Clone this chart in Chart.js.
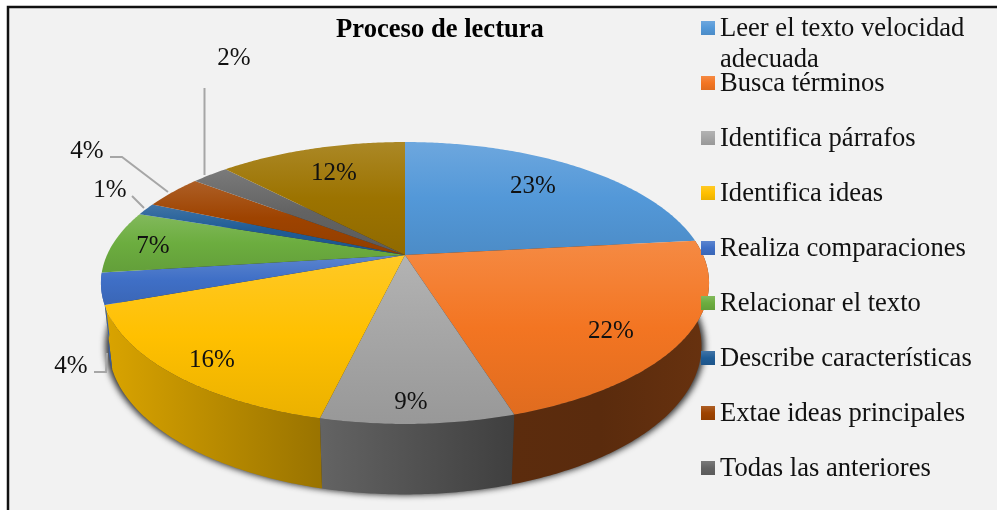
<!DOCTYPE html>
<html>
<head>
<meta charset="utf-8">
<title>Proceso de lectura</title>
<script src="https://cdn.jsdelivr.net/npm/chart.js@4"></script>
<style>
  html, body { margin: 0; padding: 0; background: #fff; }
  canvas { display: block; }
</style>
</head>
<body>
<canvas id="chart-area" width="997" height="510"></canvas>
<script>
var chartTitle = 'Proceso de lectura';
var categories = [
  ['Leer el texto velocidad', 'adecuada'],
  ['Busca términos'],
  ['Identifica párrafos'],
  ['Identifica ideas'],
  ['Realiza comparaciones'],
  ['Relacionar el texto'],
  ['Describe características'],
  ['Extae ideas principales'],
  ['Todas las anteriores']
];
categories.push(['']); // last slice has no entry in the legend of the original

// shares, in percent
var shares = [23.3, 21.9, 8.5, 15.7, 3.6, 7.2, 1.4, 3.9, 2.4, 12.1];
var sliceColors = ['#5398d8', '#f37522', '#a5a5a5', '#ffc000', '#3f6fc6',
                   '#6cad3f', '#1f5c96', '#9e4300', '#636363', '#9c7300'];

// where the percent labels sit, these were moved by hand in the original
var labelSpots = [[533, 186], [611, 331], [411, 402], [212, 360], [71, 366],
                  [153, 246], [110, 190], [87, 151], [234, 58], [334, 173]];
var leaderLines = [
  [[94, 372], [106, 372], [107, 353]],
  [[132, 196], [144, 208]],
  [[110, 157], [122, 157], [168, 192]],
  [[204.5, 88], [204.5, 175]]
];

// perspective of the tilted disc
var persp = 0.1986;
var kx = 298 / 255;
var ky = 135.4 / 255;
// side wall light, from left to right
var wallShade = [[100, 0.86], [322, 0.6], [514, 0.38], [600, 0.37], [710, 0.43]];

function rgb(hex) {
  return [parseInt(hex.substr(1, 2), 16), parseInt(hex.substr(3, 2), 16), parseInt(hex.substr(5, 2), 16)];
}
function times(hex, f) {
  var c = rgb(hex);
  return 'rgb(' + Math.round(c[0] * f) + ',' + Math.round(c[1] * f) + ',' + Math.round(c[2] * f) + ')';
}
function toWhite(hex, f) {
  var c = rgb(hex);
  return 'rgb(' + Math.round(c[0] + (255 - c[0]) * f) + ',' + Math.round(c[1] + (255 - c[1]) * f) + ',' + Math.round(c[2] + (255 - c[2]) * f) + ')';
}
function topPoint(arc, a) {
  var u = Math.cos(a), v = Math.sin(a), d = 1 - persp * v;
  return [arc.x + arc.outerRadius * kx * u / d, arc.y + arc.outerRadius * ky * v / d];
}
function basePoint(arc, a) {
  var p = topPoint(arc, a);
  return [arc.x + (p[0] - arc.x) * 0.975, arc.y + (p[1] - arc.y) * 1.053 + 61.5];
}
function shadowPoint(arc, a) {
  var p = topPoint(arc, a);
  return [arc.x + (p[0] - arc.x) * 0.985, arc.y + (p[1] - arc.y) * 1.053 + 62];
}
function arcPoints(arc, fn) {
  var pts = [];
  var n = Math.max(2, Math.ceil((arc.endAngle - arc.startAngle) / 0.01));
  for (var i = 0; i <= n; i++) {
    pts.push(fn(arc, arc.startAngle + (arc.endAngle - arc.startAngle) * i / n));
  }
  return pts;
}
function tracePath(ctx, pts) {
  ctx.beginPath();
  pts.forEach(function(p, i) {
    if (i == 0) ctx.moveTo(p[0], p[1]);
    else ctx.lineTo(p[0], p[1]);
  });
  ctx.closePath();
}
function slantGradient(ctx, top, bottom, color) {
  var g = ctx.createLinearGradient(0, top, 0, bottom);
  g.addColorStop(0, toWhite(color, 0.15));
  g.addColorStop(0.5, color);
  g.addColorStop(1, times(color, 0.92));
  return g;
}

var pie3d = {
  id: 'pie3d',
  beforeDraw: function(chart) {
    var ctx = chart.ctx;
    ctx.save();
    ctx.fillStyle = '#fff';
    ctx.fillRect(0, 0, chart.width, chart.height);
    ctx.fillStyle = '#f2f2f2';
    ctx.fillRect(7, 6, chart.width, chart.height);
    ctx.strokeStyle = '#111';
    ctx.lineWidth = 2.5;
    ctx.beginPath();
    ctx.moveTo(8, chart.height);
    ctx.lineTo(8, 7);
    ctx.lineTo(chart.width, 7);
    ctx.stroke();
    ctx.restore();
  },
  beforeDatasetsDraw: function(chart) {
    var ctx = chart.ctx;
    var arcs = chart.getDatasetMeta(0).data;
    var colors = chart.data.datasets[0].backgroundColor;
    ctx.save();

    // soft shadow under the disc
    var rim = [];
    arcs.forEach(function(arc) { rim = rim.concat(arcPoints(arc, shadowPoint)); });
    ctx.save();
    ctx.filter = 'blur(3px)';
    ctx.fillStyle = 'rgba(25,25,25,0.9)';
    tracePath(ctx, rim);
    ctx.fill();
    ctx.restore();

    // side walls, slices that only face backwards have none to show
    arcs.forEach(function(arc, i) {
      if (Math.sin(arc.startAngle) < 0.2 && Math.sin(arc.endAngle) < 0.2) return;
      var pts = arcPoints(arc, topPoint).concat(arcPoints(arc, basePoint).reverse());
      var g = ctx.createLinearGradient(100, 0, 710, 0);
      wallShade.forEach(function(s) {
        g.addColorStop((s[0] - 100) / 610, times(colors[i], s[1]));
      });
      ctx.fillStyle = g;
      tracePath(ctx, pts);
      ctx.fill();
    });

    // top face, each slice with its own gradient
    arcs.forEach(function(arc, i) {
      var pts = arcPoints(arc, topPoint);
      pts.push([arc.x, arc.y]);
      var ys = pts.map(function(p) { return p[1]; });
      var top = Math.min.apply(null, ys), bottom = Math.max.apply(null, ys);
      ctx.fillStyle = slantGradient(ctx, top, bottom, colors[i]);
      tracePath(ctx, pts);
      ctx.fill();
    });
    ctx.restore();
    return false;
  },
  afterDraw: function(chart) {
    var ctx = chart.ctx;
    var colors = chart.data.datasets[0].backgroundColor;
    var values = chart.data.datasets[0].data;
    ctx.save();

    // leader lines
    ctx.strokeStyle = '#a6a6a6';
    ctx.lineWidth = 2;
    leaderLines.forEach(function(line) {
      ctx.beginPath();
      line.forEach(function(p, i) {
        if (i == 0) ctx.moveTo(p[0], p[1]);
        else ctx.lineTo(p[0], p[1]);
      });
      ctx.stroke();
    });

    // percent labels
    ctx.font = '25px "Liberation Serif"';
    ctx.fillStyle = '#111';
    ctx.textAlign = 'center';
    ctx.textBaseline = 'middle';
    values.forEach(function(v, i) {
      ctx.fillText(Math.round(v) + '%', labelSpots[i][0], labelSpots[i][1]);
    });

    // title
    ctx.font = 'bold 26.6px "Liberation Serif"';
    ctx.fillStyle = '#000';
    ctx.fillText(chartTitle, 440, 30);

    // legend
    ctx.font = '26.6px "Liberation Serif"';
    ctx.textAlign = 'left';
    ctx.textBaseline = 'alphabetic';
    chart.data.labels.forEach(function(lines, i) {
      if (!lines[0]) return;
      var y = 21 + i * 55;
      ctx.fillStyle = slantGradient(ctx, y, y + 14, colors[i]);
      ctx.fillRect(701, y, 14, 14);
      ctx.fillStyle = '#111';
      lines.forEach(function(line, k) {
        ctx.fillText(line, 720, y + 15 + k * 31);
      });
    });
    ctx.restore();
  }
};

var ctx = document.getElementById('chart-area').getContext('2d');
window.myPie = new Chart(ctx, {
  type: 'pie',
  data: {
    labels: categories,
    datasets: [{
      data: shares,
      backgroundColor: sliceColors,
      borderWidth: 0
    }]
  },
  options: {
    responsive: false,
    animation: false,
    layout: { padding: { right: 187 } },
    plugins: {
      legend: { display: false },
      title: { display: false },
      tooltip: { enabled: false }
    }
  },
  plugins: [pie3d]
});
</script>
</body>
</html>
